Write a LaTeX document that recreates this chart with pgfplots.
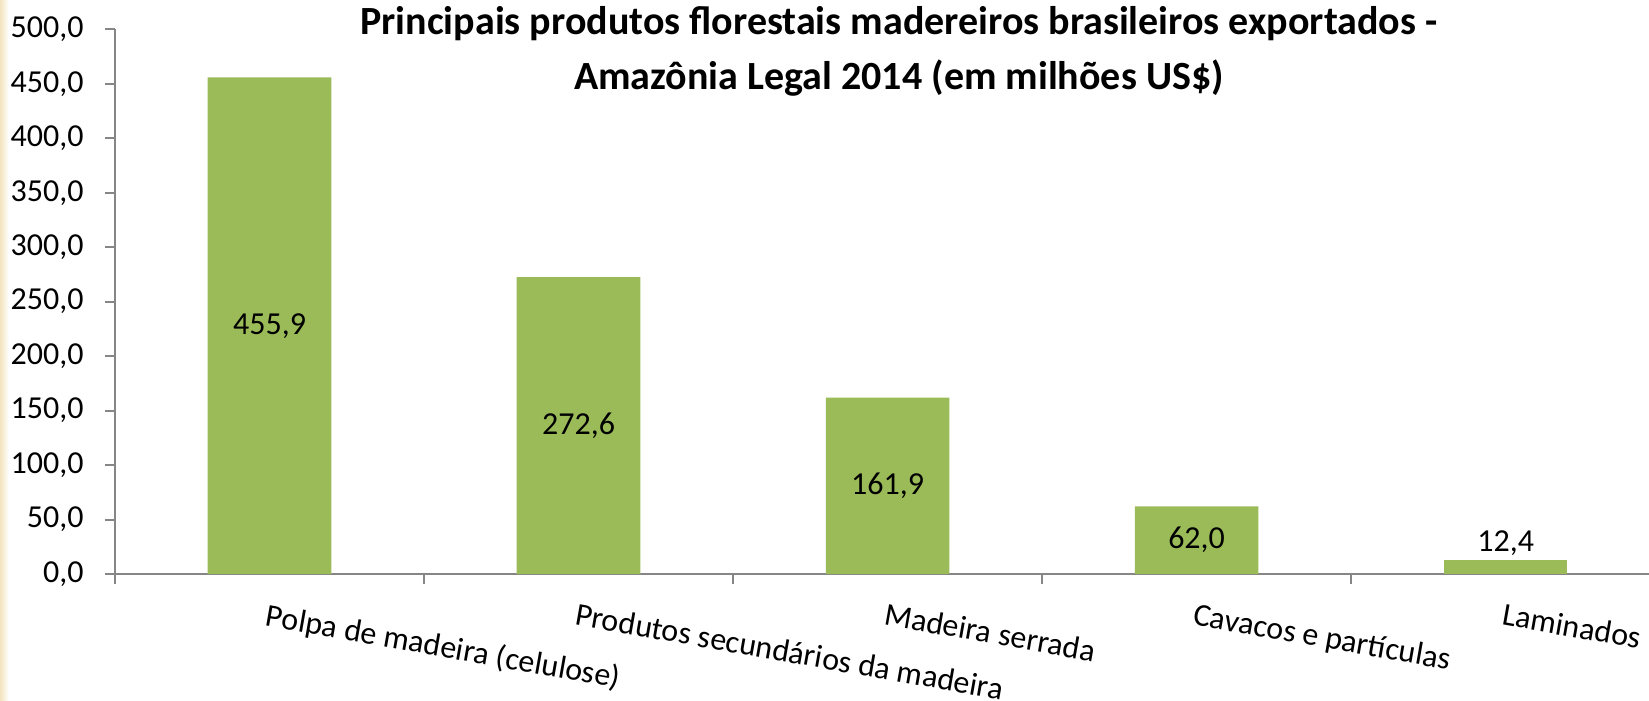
\documentclass[border=0pt]{standalone}
\usepackage{fontspec}
\setmainfont{Carlito}
\usepackage{pgfplots}
\pgfplotsset{compat=1.18}
\definecolor{bargreen}{RGB}{155,187,89}
\definecolor{axisgray}{RGB}{134,134,134}
\definecolor{beige}{RGB}{243,228,190}
\begin{document}
\begin{tikzpicture}
\useasboundingbox (-57.5pt,-63.5pt) rectangle (767pt,287pt);
\shade[left color=beige, right color=white] (-57.5pt,-63.5pt) rectangle (-53pt,287pt);
\begin{axis}[
  at={(0,0)}, anchor=south west,
  scale only axis,
  width=767pt, height=272.35pt,
  xmin=-0.5, xmax=4.464,
  ymin=0, ymax=500,
  axis lines=left,
  axis line style={draw=axisgray, line width=1pt, -},
  ytick={0,50,...,500},
  xtick={-0.5,0.5,1.5,2.5,3.5},
  xticklabels={},
  extra x ticks={0,1,2,3,4},
  extra x tick labels={Polpa de madeira (celulose),Produtos secundários da madeira,Madeira serrada,Cavacos e partículas,Laminados},
  extra x tick style={major tick length=0pt, xticklabel style={anchor=north west, rotate=-10, inner sep=0pt, yshift=-14pt, xshift=2pt}},
  tick align=outside,
  major tick length=5pt,
  tick style={draw=axisgray, line width=1pt},
  yticklabel style={anchor=east, inner sep=0pt, xshift=-10.5pt},
  tick label style={font=\fontsize{16}{19}\selectfont},
  /pgf/number format/assume math mode=true,
  yticklabel={\pgfmathprintnumber[fixed, fixed zerofill, precision=1, use comma]{\tick}},
  title={Principais produtos florestais madereiros brasileiros exportados -\\Amazônia Legal 2014 (em milhões US\$)},
  title style={font=\fontsize{20}{27.5}\selectfont\bfseries, align=center, at={(axis description cs:0.511,1.021)}, anchor=north, inner sep=0pt},
  nodes near coords style={font=\fontsize{16}{19}\selectfont},
  clip=false,
]
\addplot[ybar, bar width=0.4, bar shift=0pt, fill=bargreen, draw=none,
  visualization depends on={y \as \rawy},
  nodes near coords={\pgfmathprintnumber[fixed, fixed zerofill, precision=1, use comma]{\pgfplotspointmeta}},
  every node near coord/.append style={anchor=center, shift={(axis direction cs:0,-\rawy/2)}}]
  coordinates {(0,455.9) (1,272.6) (2,161.9) (3,62.0)};
\addplot[ybar, bar width=0.4, bar shift=0pt, fill=bargreen, draw=none,
  nodes near coords={\pgfmathprintnumber[fixed, fixed zerofill, precision=1, use comma]{\pgfplotspointmeta}},
  every node near coord/.append style={anchor=south, inner sep=2pt}]
  coordinates {(4,12.4)};
\end{axis}
\end{tikzpicture}
\end{document}
